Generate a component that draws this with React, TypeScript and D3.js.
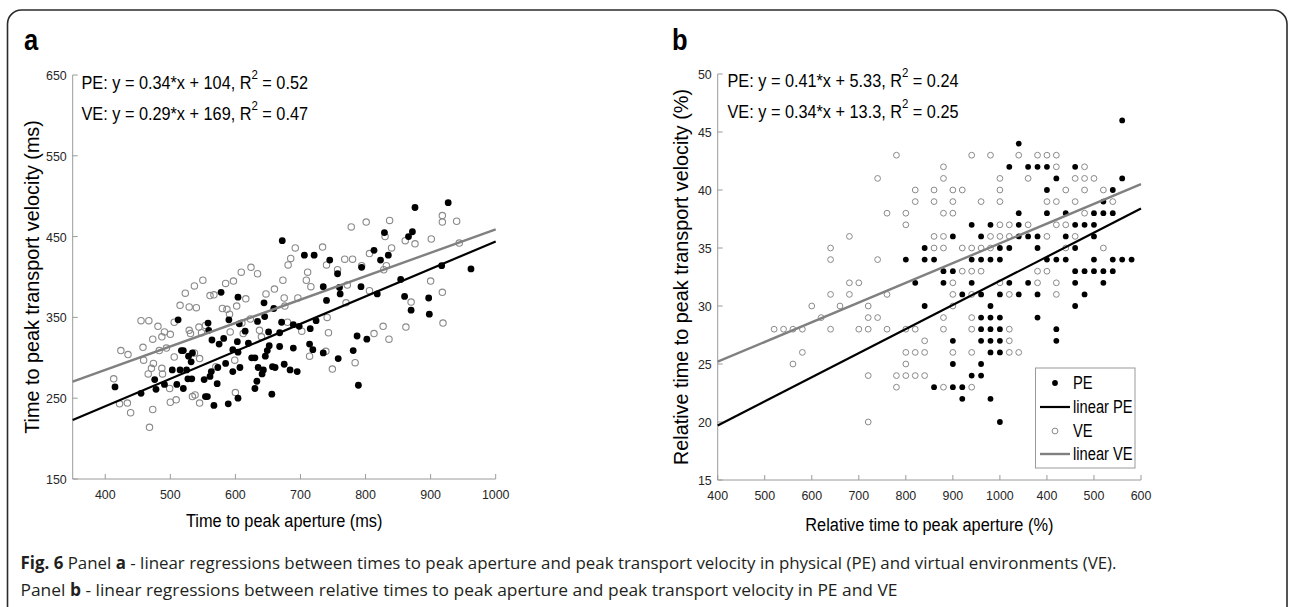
import * as d3 from "d3";

// ---- panel a : time to peak aperture (ms) vs time to peak transport velocity (ms)
const peA: [number, number][] = [
  [927, 492], [876, 486], [672, 445], [829, 455], [872, 456], [866, 450], [813, 433], [706, 427],
  [721, 427], [745, 421], [823, 421], [835, 427], [794, 412], [757, 404], [962, 410], [917, 414],
  [854, 397], [735, 388], [760, 387], [793, 388], [761, 379], [818, 379], [860, 376], [897, 374],
  [578, 381], [604, 375], [740, 371], [512, 347], [558, 343], [590, 347], [606, 342], [615, 333],
  [644, 368], [645, 351], [634, 345], [659, 361], [651, 332], [671, 344], [668, 331], [689, 341],
  [698, 339], [715, 336], [724, 346], [870, 359], [898, 354], [787, 327], [802, 323], [781, 309],
  [758, 299], [735, 306], [719, 310], [714, 317], [689, 312], [695, 283], [684, 285], [675, 292],
  [661, 288], [657, 289], [668, 314], [652, 315], [649, 309], [646, 302], [643, 285], [641, 280],
  [635, 288], [633, 271], [630, 262], [625, 300], [630, 300], [620, 318], [607, 288], [604, 307],
  [603, 320], [596, 310], [596, 283], [585, 293], [582, 324], [575, 317], [573, 288], [572, 268],
  [564, 322], [559, 334], [563, 283], [561, 277], [552, 273], [554, 252], [557, 252], [567, 241],
  [589, 243], [604, 250], [656, 255], [534, 306], [532, 295], [528, 302], [520, 309], [517, 309],
  [527, 274], [533, 274], [525, 285], [515, 285], [503, 285], [510, 267], [520, 262], [491, 267],
  [478, 261], [476, 273], [455, 256], [415, 264], [789, 266],
];
const veA: [number, number][] = [
  [918, 476], [918, 468], [940, 469], [801, 468], [778, 462], [837, 470], [830, 450], [901, 447],
  [876, 441], [861, 445], [944, 442], [840, 436], [734, 437], [692, 436], [685, 423], [681, 415],
  [794, 414], [768, 422], [780, 422], [740, 415], [757, 409], [806, 429], [832, 414], [828, 409],
  [711, 406], [709, 396], [716, 388], [673, 396], [609, 406], [624, 412], [634, 404], [585, 392],
  [597, 395], [523, 380], [537, 389], [550, 396], [561, 377], [567, 378], [647, 379], [660, 385],
  [772, 390], [806, 383], [900, 395], [918, 381], [616, 373], [675, 374], [696, 374],
  [413, 274], [424, 309], [435, 304], [422, 243], [434, 244], [439, 232], [468, 214], [473, 236],
  [455, 346], [467, 346], [458, 313], [459, 297], [466, 280], [471, 287], [474, 293], [473, 323],
  [481, 339], [487, 326], [491, 332], [494, 312], [483, 309], [487, 287], [488, 280], [506, 344],
  [500, 329], [499, 262], [509, 248], [500, 245], [506, 301], [515, 365], [529, 363], [540, 362],
  [531, 330], [529, 334], [544, 338], [554, 340], [545, 299], [534, 252], [538, 254], [545, 244],
  [537, 306], [548, 331], [580, 361], [587, 360], [591, 354], [602, 364], [612, 330], [592, 332],
  [570, 289], [599, 297], [600, 257], [610, 343], [623, 348], [637, 334], [640, 326], [676, 364],
  [680, 344], [702, 333], [714, 302], [739, 308], [741, 350], [743, 331], [749, 286], [770, 368],
  [784, 294], [813, 330], [827, 339], [836, 323], [862, 338], [870, 369], [919, 343],
];
const fitA = { PE: [0.34, 104], VE: [0.29, 169] };
const xTicksA = [400, 500, 600, 700, 800, 900, 1000];
const yTicksA = [150, 250, 350, 450, 550, 650];

// ---- panel b : relative times (%), values sit on a grid -> rows of [y, x values]
const peB: [number, number[]][] = [
  [46, [1260]],
  [44, [1040]],
  [42, [1020, 1060, 1080, 1100, 1160]],
  [41, [1120, 1260]],
  [40, [1100, 1240]],
  [39, [1220]],
  [38, [1040, 1100, 1140, 1200, 1220, 1240]],
  [37, [940, 980, 1040, 1160, 1180, 1200]],
  [36, [900, 960, 1040, 1060, 1080, 1140, 1200]],
  [35, [840, 1000, 1020, 1080, 1160]],
  [34, [800, 840, 860, 940, 960, 980, 1000, 1100, 1120, 1140, 1200, 1240, 1260, 1280]],
  [33, [880, 900, 1160, 1180, 1200, 1220, 1240]],
  [32, [820, 880, 940, 1020, 1060, 1160, 1220]],
  [31, [920, 960, 1000, 1040, 1080, 1180]],
  [30, [840, 980, 1160]],
  [29, [960, 980, 1000, 1080]],
  [28, [960, 980, 1000, 1120]],
  [27, [900, 960, 980, 1000, 1120]],
  [26, [980, 1000]],
  [25, [900, 960]],
  [24, [940, 960]],
  [23, [860, 900, 920]],
  [22, [920, 980]],
  [20, [1000]],
];
const veB: [number, number[]][] = [
  [43, [780, 940, 980, 1040, 1080, 1100, 1120]],
  [42, [880, 1120, 1180]],
  [41, [740, 880, 1000, 1060, 1160, 1180, 1200]],
  [40, [820, 860, 900, 920, 1000, 1140, 1180, 1220]],
  [39, [820, 860, 900, 960, 1000, 1100, 1120, 1160, 1240]],
  [38, [760, 800, 880, 900, 1180]],
  [37, [800, 1000, 1020, 1060, 1120, 1140]],
  [36, [680, 860, 880, 980, 1000, 1020, 1100, 1160]],
  [35, [640, 860, 880, 920, 940, 960, 980, 1140, 1220]],
  [34, [640, 740]],
  [33, [920, 940, 960, 1080, 1100]],
  [32, [680, 700, 900, 1000, 1080, 1120]],
  [31, [640, 680, 760, 900, 940, 1020, 1120]],
  [30, [600, 660, 720, 900]],
  [29, [620, 720, 740, 880, 940]],
  [28, [520, 540, 560, 580, 640, 700, 720, 760, 800, 820, 880, 940, 1020]],
  [27, [840, 1020]],
  [26, [580, 800, 820, 840, 900, 940, 1020, 1040]],
  [25, [560, 800]],
  [24, [720, 780, 800, 820, 840]],
  [23, [780, 880, 940]],
  [20, [720]],
];
const fitB = { PE: [[400, 19.7], [1300, 38.4]], VE: [[400, 25.2], [1300, 40.5]] };
const xTicksB = [400, 500, 600, 700, 800, 900, 1000, 1100, 1200, 1300];
const xTickLabelsB = ["400", "500", "600", "700", "800", "900", "1000", "400", "500", "600"];
const yTicksB = [15, 20, 25, 30, 35, 40, 45, 50];

const FONT = "'Liberation Sans', Arial, Helvetica, sans-serif";
const GREY = "#8a8a8a";
const AXIS = "#9a9a9a";

const flat = (rows: [number, number[]][]) => rows.flatMap(([y, xs]) => xs.map((x) => [x, y] as [number, number]));

// horizontally condensed text, the source figure is squeezed a bit
const T = ({ x, y, k = 0.88, size = 18, anchor = "start", weight = "normal", fill = "#000", children }: any) => (
  <text transform={`translate(${x},${y}) scale(${k},1)`} textAnchor={anchor} fontSize={size}
    fontWeight={weight} fill={fill} fontFamily={FONT}>{children}</text>
);

const Equation = ({ x, y, label, slope, icept, r2 }: any) => (
  <text transform={`translate(${x},${y}) scale(0.88,1)`} fontSize={18.5} fontFamily={FONT} fill="#000">
    {`${label}: y = ${slope}*x + ${icept}, R`}
    <tspan dy={-10} fontSize={13}>2</tspan>
    <tspan dy={10}>{` = ${r2}`}</tspan>
  </text>
);

const Axes = ({ sx, sy, xTicks, yTicks, xLabels, xText, yText, yTextX, xTextY }: any) => {
  const [x0, x1] = sx.range();
  const [y0, y1] = sy.range();
  return (
    <g>
      <line x1={x0} x2={x0} y1={y0} y2={y1} stroke={AXIS} strokeWidth={1} />
      <line x1={x0} x2={x1} y1={y0} y2={y0} stroke={AXIS} strokeWidth={1} />
      {xTicks.map((t: number, i: number) => (
        <g key={"x" + t}>
          <line x1={sx(t)} x2={sx(t)} y1={y0} y2={y0 - 5} stroke={AXIS} />
          <T x={sx(t)} y={y0 + 20} size={13.5} k={0.92} anchor="middle" fill="#262626">
            {xLabels ? xLabels[i] : t}
          </T>
        </g>
      ))}
      {yTicks.map((t: number) => (
        <g key={"y" + t}>
          <line x1={x0} x2={x0 + 5} y1={sy(t)} y2={sy(t)} stroke={AXIS} />
          <T x={x0 - 6} y={sy(t) + 5} size={13.5} k={0.92} anchor="end" fill="#262626">{t}</T>
        </g>
      ))}
      <T x={(x0 + x1) / 2} y={xTextY} size={18.6} anchor="middle">{xText}</T>
      <text transform={`translate(${yTextX},${(y0 + y1) / 2}) rotate(-90)`} textAnchor="middle"
        fontSize={19.8} fontFamily={FONT} fill="#000">{yText}</text>
    </g>
  );
};

export default function App() {
  // panel a scales
  const sxA = d3.scaleLinear().domain([350, 1000]).range([72.7, 495.7]);
  const syA = d3.scaleLinear().domain([150, 650]).range([479, 75]);
  // panel b scales
  const sxB = d3.scaleLinear().domain([400, 1300]).range([717.7, 1141]);
  const syB = d3.scaleLinear().domain([15, 50]).range([480, 74]);

  const lineA = (k: "PE" | "VE") => {
    const [m, b] = fitA[k];
    return d3.line<number>().x((x) => sxA(x)).y((x) => syA(m * x + b))(sxA.domain());
  };
  const lineB = (k: "PE" | "VE") =>
    d3.line<number[]>().x((d) => sxB(d[0])).y((d) => syB(d[1]))(fitB[k]);

  const ptsPeB = flat(peB);
  const ptsVeB = flat(veB);

  const lg = { x: 1035.5, y: 368, w: 99.5, h: 100 };

  return (
    <svg width={1295} height={607} style={{ position: "absolute", left: 0, top: 0, background: "#fff" }}>
      <rect x={7.5} y={10} width={1279.5} height={620} rx={14} fill="#fff" stroke="#2b2b2b" strokeWidth={1.6} />

      {/* panel a */}
      <T x={24} y={50} size={29} weight="bold">a</T>
      <Equation x={81.5} y={89} label="PE" slope="0.34" icept="104" r2="0.52" />
      <Equation x={81.5} y={119.5} label="VE" slope="0.29" icept="169" r2="0.47" />
      <Axes sx={sxA} sy={syA} xTicks={xTicksA} yTicks={yTicksA}
        xText="Time to peak aperture (ms)" yText="Time to peak transport velocity (ms)"
        yTextX={39} xTextY={527} />
      {veA.map((d, i) => (
        <circle key={"va" + i} cx={sxA(d[0])} cy={syA(d[1])} r={3.2} fill="none" stroke={GREY} strokeWidth={1.1} />
      ))}
      {peA.map((d, i) => (
        <circle key={"pa" + i} cx={sxA(d[0])} cy={syA(d[1])} r={3.4} fill="#000" />
      ))}
      <path d={lineA("VE") || ""} stroke="#808080" strokeWidth={2.4} fill="none" />
      <path d={lineA("PE") || ""} stroke="#000" strokeWidth={2.2} fill="none" />

      {/* panel b */}
      <T x={672} y={50} size={29} weight="bold">b</T>
      <Equation x={727.5} y={87} label="PE" slope="0.41" icept="5.33" r2="0.24" />
      <Equation x={727.5} y={117.5} label="VE" slope="0.34" icept="13.3" r2="0.25" />
      <Axes sx={sxB} sy={syB} xTicks={xTicksB} yTicks={yTicksB} xLabels={xTickLabelsB}
        xText="Relative time to peak aperture (%)" yText="Relative time to peak transport velocity (%)"
        yTextX={688} xTextY={531} />
      {ptsVeB.map((d, i) => (
        <circle key={"vb" + i} cx={sxB(d[0])} cy={syB(d[1])} r={2.9} fill="none" stroke={GREY} strokeWidth={1} />
      ))}
      {ptsPeB.map((d, i) => (
        <circle key={"pb" + i} cx={sxB(d[0])} cy={syB(d[1])} r={2.9} fill="#000" />
      ))}
      <path d={lineB("VE") || ""} stroke="#808080" strokeWidth={2.4} fill="none" />
      <path d={lineB("PE") || ""} stroke="#000" strokeWidth={2.2} fill="none" />

      {/* legend */}
      <rect x={lg.x} y={lg.y} width={lg.w} height={lg.h} fill="#fff" stroke="#9a9a9a" strokeWidth={1} />
      <circle cx={1055} cy={383} r={2.9} fill="#000" />
      <T x={1073} y={389} size={17.5} k={0.84}>PE</T>
      <line x1={1040} x2={1070} y1={407} y2={407} stroke="#000" strokeWidth={2.2} />
      <T x={1073} y={413} size={17.5} k={0.84}>linear PE</T>
      <circle cx={1055} cy={431} r={2.9} fill="none" stroke={GREY} strokeWidth={1} />
      <T x={1073} y={437} size={17.5} k={0.84}>VE</T>
      <line x1={1040} x2={1070} y1={454} y2={454} stroke="#808080" strokeWidth={2.4} />
      <T x={1073} y={460} size={17.5} k={0.84}>linear VE</T>

      {/* caption */}
      <text x={20.5} y={569} fontSize={17} fontFamily="'Open Sans', 'Noto Sans', sans-serif" fill="#231f20"
        textLength={1096} lengthAdjust="spacingAndGlyphs">
        <tspan fontWeight="bold">Fig. 6</tspan> Panel <tspan fontWeight="bold">a</tspan> - linear regressions between times to peak aperture and peak transport velocity in physical (PE) and virtual environments (VE).
      </text>
      <text x={20.5} y={596} fontSize={17} fontFamily="'Open Sans', 'Noto Sans', sans-serif" fill="#231f20"
        textLength={877} lengthAdjust="spacingAndGlyphs">
        Panel <tspan fontWeight="bold">b</tspan> - linear regressions between relative times to peak aperture and peak transport velocity in PE and VE
      </text>
    </svg>
  );
}
